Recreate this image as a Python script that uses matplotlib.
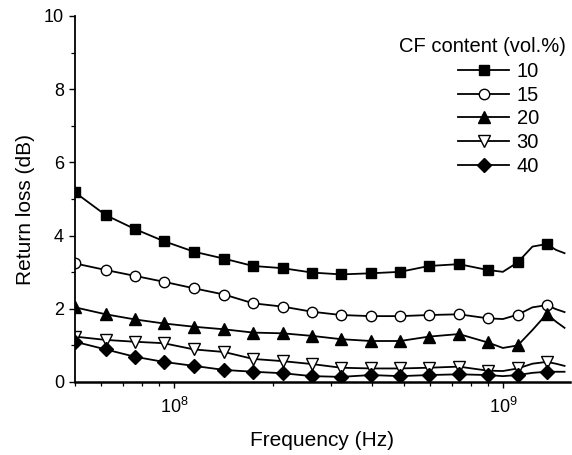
import matplotlib
matplotlib.use('Agg')
import matplotlib.pyplot as plt
from matplotlib.ticker import MultipleLocator, LogLocator

plt.rcParams['font.family'] = ['Liberation Sans', 'DejaVu Sans']
plt.rcParams['mathtext.default'] = 'regular'

# frequency points (Hz); markers sit on every point except the extra ones
freq = [5.0e7, 6.2e7, 7.6e7, 9.3e7, 1.15e8, 1.42e8, 1.74e8, 2.14e8, 2.63e8,
        3.22e8, 3.97e8, 4.87e8, 5.96e8, 7.35e8, 9.0e8, 1.0e9, 1.11e9,
        1.23e9, 1.36e9, 1.45e9, 1.54e9]
marker_idx = [0, 1, 2, 3, 4, 5, 6, 7, 8, 9, 10, 11, 12, 13, 14, 16, 18]

rl_10 = [5.18, 4.56, 4.18, 3.85, 3.56, 3.37, 3.17, 3.11, 2.99, 2.94, 2.97,
         3.01, 3.17, 3.22, 3.06, 3.01, 3.27, 3.70, 3.77, 3.61, 3.52]
rl_15 = [3.24, 3.06, 2.90, 2.74, 2.56, 2.39, 2.15, 2.06, 1.92, 1.83, 1.80,
         1.80, 1.83, 1.85, 1.74, 1.72, 1.84, 2.04, 2.10, 1.99, 1.91]
rl_20 = [2.04, 1.85, 1.71, 1.60, 1.51, 1.44, 1.35, 1.33, 1.26, 1.17, 1.12,
         1.12, 1.24, 1.31, 1.08, 0.93, 1.00, 1.42, 1.86, 1.65, 1.48]
rl_30 = [1.24, 1.15, 1.10, 1.06, 0.89, 0.82, 0.63, 0.57, 0.49, 0.39, 0.37,
         0.37, 0.39, 0.42, 0.31, 0.30, 0.37, 0.50, 0.55, 0.50, 0.44]
rl_40 = [1.10, 0.89, 0.69, 0.55, 0.44, 0.33, 0.28, 0.24, 0.16, 0.14, 0.19,
         0.16, 0.19, 0.21, 0.19, 0.16, 0.19, 0.25, 0.28, 0.28, 0.28]

labels = ['10', '15', '20', '30', '40']
series = [rl_10, rl_15, rl_20, rl_30, rl_40]
markers = ['s', 'o', '^', 'v', 'D']
faces = ['black', 'white', 'black', 'white', 'black']
sizes = [7, 7.5, 8, 8, 7]

fig = plt.figure(figsize=(5.72, 4.55), dpi=100)
ax = fig.add_axes([75 / 572, 73 / 455, 495 / 572, 366 / 455])

for y, lab, m, fc, ms in zip(series, labels, markers, faces, sizes):
    ax.plot(freq, y, '-', color='black', lw=1.3, marker=m, ms=ms,
            mfc=fc, mec='black', mew=1.0, markevery=marker_idx, label=lab)

ax.set_xscale('log')
ax.set_xlim(5e7, 1.6e9)
ax.set_ylim(0, 10)
ax.yaxis.set_major_locator(MultipleLocator(2))
ax.yaxis.set_minor_locator(MultipleLocator(1))
ax.xaxis.set_minor_locator(LogLocator(base=10, subs=range(2, 10)))

for s in ['top', 'right']:
    ax.spines[s].set_visible(False)
ax.spines['left'].set_linewidth(1.3)
ax.spines['bottom'].set_linewidth(1.8)

ax.tick_params(which='major', length=4.5, width=1.0, labelsize=13)
ax.tick_params(which='minor', length=3, width=0.9)
ax.tick_params(axis='x', which='major', pad=6)

ax.set_xlabel('Frequency (Hz)', fontsize=15)
ax.set_ylabel('Return loss (dB)', fontsize=15)
ax.xaxis.set_label_coords(0.5, -0.135)
ax.yaxis.set_label_coords(-0.08, 0.47)

ax.text(0.823, 0.918, 'CF content (vol.%)', transform=ax.transAxes,
        fontsize=14.5, ha='center', va='center')
ax.legend(loc='upper left', bbox_to_anchor=(0.774, 0.874), frameon=False,
          fontsize=14.5, handlelength=2.55, handletextpad=0.35,
          labelspacing=0.23, numpoints=1, borderpad=0, borderaxespad=0)

fig.savefig('out.png', dpi=100)
